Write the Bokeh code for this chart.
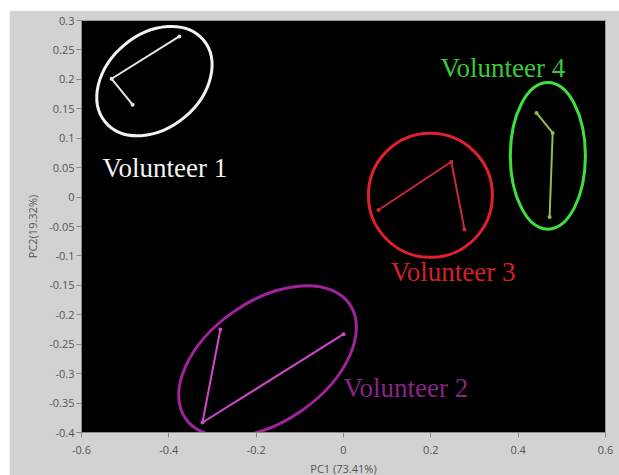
from bokeh.plotting import figure
from bokeh.models import FixedTicker, Range1d
from bokeh.core.properties import value
from bokeh.embed import file_html
from bokeh.resources import INLINE

# PCA scores per volunteer (PC1, PC2), joined in sample order
v1_pc1 = [-0.376, -0.531, -0.483]
v1_pc2 = [0.273, 0.201, 0.157]
v2_pc1 = [-0.282, -0.323, 0.000]
v2_pc2 = [-0.225, -0.383, -0.233]
v3_pc1 = [0.080, 0.247, 0.277]
v3_pc2 = [-0.022, 0.060, -0.055]
v4_pc1 = [0.442, 0.479, 0.472]
v4_pc2 = [0.143, 0.109, -0.034]

# cluster ellipses: centre, width, height (data units), tilt (degrees)
ell_x = [-0.433, -0.174, 0.199, 0.468]
ell_y = [0.197, -0.279, 0.003, 0.070]
ell_w = [0.293, 0.458, 0.284, 0.172]
ell_h = [0.160, 0.204, 0.211, 0.249]
ell_angle = [40, 35, 0, 0]

labels = ["Volunteer 1", "Volunteer 2", "Volunteer 3", "Volunteer 4"]
label_x = [-0.552, 0.0, 0.108, 0.222]
label_y = [0.049, -0.325, -0.128, 0.22]

x_ticks = [-0.6, -0.4, -0.2, 0.0, 0.2, 0.4, 0.6]
x_tick_labels = ["-0.6", "-0.4", "-0.2", "0", "0.2", "0.4", "0.6"]
y_ticks = [0.3, 0.25, 0.2, 0.15, 0.1, 0.05, 0.0, -0.05, -0.1, -0.15, -0.2,
           -0.25, -0.3, -0.35, -0.4]
y_tick_labels = ["0.3", "0.25", "0.2", "0.15", "0.1", "0.05", "0", "-0.05",
                 "-0.1", "-0.15", "-0.2", "-0.25", "-0.3", "-0.35", "-0.4"]

ellipse_colors = ["#f2f2f2", "#a0229c", "#e0202c", "#3ee03e"]
line_colors = ["#e4e4e4", "#d048c8", "#c8283c", "#98bc48"]
text_colors = ["#f4f4f4", "#8a2488", "#d4202a", "#3cc83c"]

# the panel runs a little past the bottom edge of the page, like a cropped screenshot
p = figure(width=610, height=475, output_backend="svg", toolbar_location=None,
           x_range=Range1d(-0.6, 0.6), y_range=Range1d(-0.4, 0.3),
           min_border_left=72, min_border_right=14, min_border_top=10,
           min_border_bottom=53, margin=(10, 0, 0, 9))
p.background_fill_color = "black"
p.border_fill_color = "#d2d2d2"
p.outline_line_color = "#9a9a9a"
p.grid.visible = False

p.xaxis.ticker = FixedTicker(ticks=x_ticks)
p.yaxis.ticker = FixedTicker(ticks=y_ticks)
p.xaxis.major_label_overrides = dict(zip(x_ticks, x_tick_labels))
p.yaxis.major_label_overrides = dict(zip(y_ticks, y_tick_labels))
p.xaxis.axis_label = "PC1 (73.41%)"
p.yaxis.axis_label = "PC2(19.32%)"
for ax in (p.xaxis, p.yaxis):
    ax.minor_tick_line_color = None
    ax.axis_line_color = "#8a8a8a"
    ax.major_tick_line_color = "#8a8a8a"
    ax.major_tick_out = 5
    ax.major_tick_in = 0
    ax.major_label_text_font = "Open Sans"
    ax.major_label_text_font_size = "11px"
    ax.major_label_text_color = "#555555"
    ax.axis_label_text_font = "Open Sans"
    ax.axis_label_text_font_size = "11px"
    ax.axis_label_text_font_style = "normal"
    ax.axis_label_text_color = "#555555"
p.xaxis.major_label_standoff = 8
p.yaxis.major_label_standoff = 2
p.xaxis.axis_label_standoff = 4
p.yaxis.axis_label_standoff = 6

series = [(v1_pc1, v1_pc2), (v2_pc1, v2_pc2), (v3_pc1, v3_pc2), (v4_pc1, v4_pc2)]
for i, (xs, ys) in enumerate(series):
    p.line(xs, ys, line_color=line_colors[i], line_width=2)
    p.scatter(xs, ys, size=4, fill_color=line_colors[i], line_color=None)

for i in range(4):
    p.ellipse(x=ell_x[i], y=ell_y[i], width=ell_w[i], height=ell_h[i],
              angle=ell_angle[i], angle_units="deg", fill_color=None,
              line_color=ellipse_colors[i], line_width=3)

p.text(x=label_x, y=label_y, text=labels, text_color=text_colors,
       text_font=value("Liberation Serif"), text_font_size="27px",
       text_align="left", text_baseline="middle")

open("out.html", "w").write(file_html(p, INLINE))
